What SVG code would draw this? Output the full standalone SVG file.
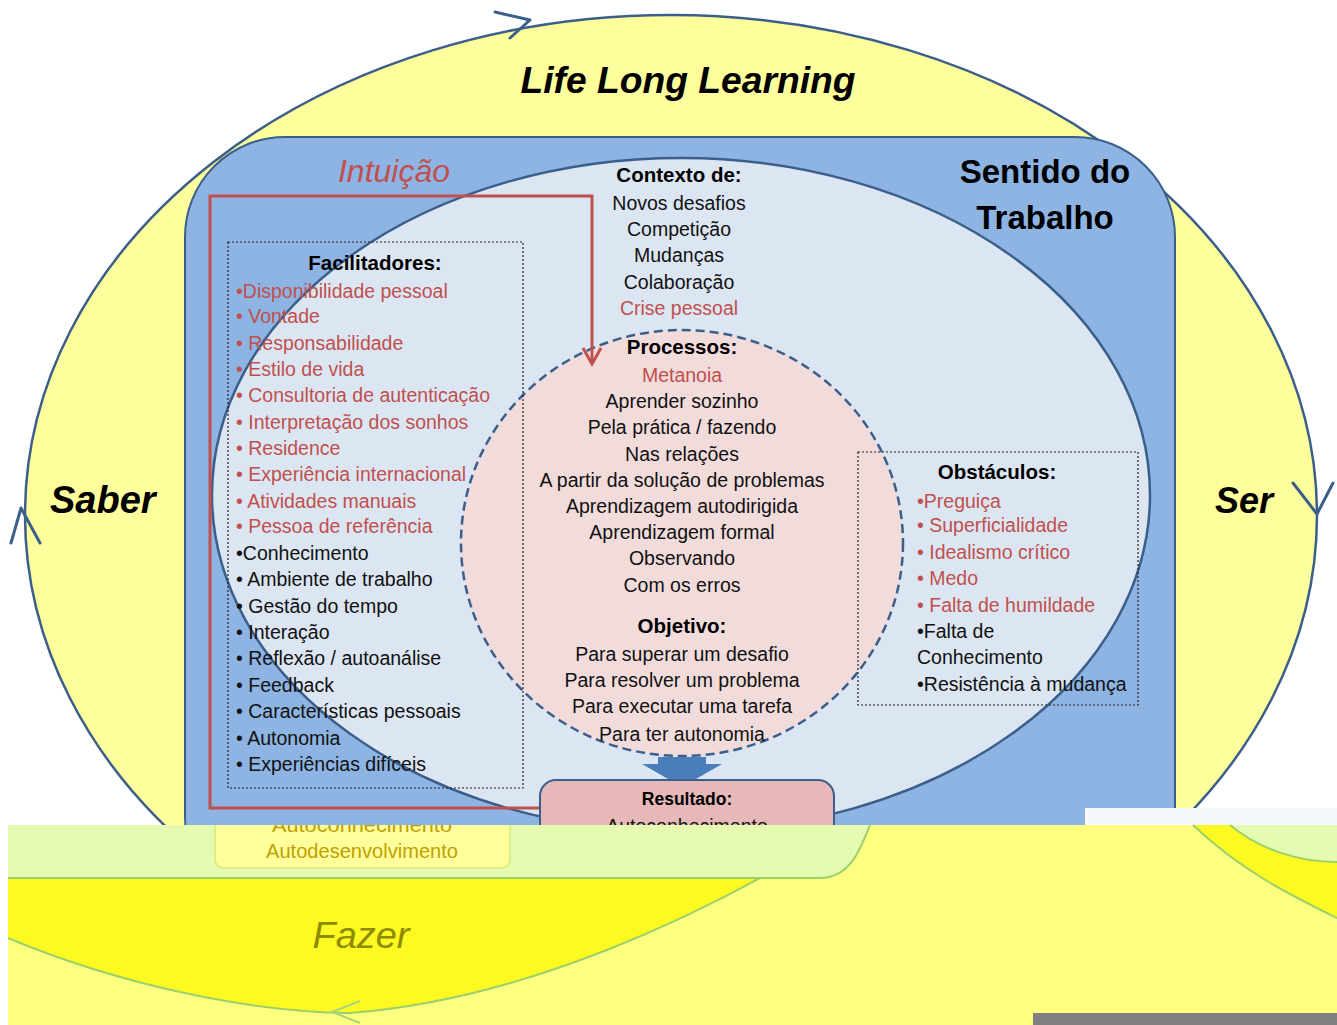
<svg xmlns="http://www.w3.org/2000/svg" width="1337" height="1025" viewBox="0 0 1337 1025">
<defs>
<style>
.t{font-family:"Liberation Sans",Arial,sans-serif;font-size:19.5px;fill:#111}
.h{font-family:"Liberation Sans",Arial,sans-serif;font-size:20.5px;font-weight:bold;fill:#000;text-anchor:middle}
.r{fill:#c0504d}
.c{text-anchor:middle}
.big{font-family:"Liberation Sans",Arial,sans-serif;font-weight:bold;font-style:italic;font-size:36px;fill:#000}
.dot{fill:none;stroke:#222;stroke-width:1.2;stroke-dasharray:2 2}
.arw{fill:none;stroke:#3b5f8a;stroke-width:3;stroke-linecap:round;stroke-linejoin:round}
.gl{fill:none;stroke:#9cd06a;stroke-width:2}
.ol{fill:#c0a000}
</style>
<clipPath id="below"><rect x="0" y="825" width="1337" height="200"/></clipPath>
</defs>
<rect width="1337" height="1025" fill="#fff"/>

<g id="life-long-learning">
<ellipse cx="671" cy="515" rx="646" ry="500" fill="#fefe9c" stroke="#3b5f8a" stroke-width="2.5"/>
<text class="big c" x="688" y="93" textLength="335" lengthAdjust="spacingAndGlyphs">Life Long Learning</text>
</g>
<g id="saber"><text class="big" x="50" y="513" style="font-size:38px">Saber</text></g>
<g id="ser"><text class="big" x="1215" y="513">Ser</text></g>

<g id="sentido-do-trabalho">
<rect x="185" y="137" width="990" height="780" rx="100" fill="#8eb4e3" stroke="#3b5f8a" stroke-width="2"/>
<text class="h" x="1045" y="183" style="font-size:33px">Sentido do</text>
<text class="h" x="1045" y="229" style="font-size:33px">Trabalho</text>
</g>

<g id="contexto">
<ellipse cx="681" cy="495" rx="469" ry="337" fill="#dce6f2" stroke="#3b5f8a" stroke-width="2.5"/>
<text class="h" x="679" y="182">Contexto de:</text>
<text class="t c" x="679" y="210">Novos desafios</text>
<text class="t c" x="679" y="236">Competição</text>
<text class="t c" x="679" y="262">Mudanças</text>
<text class="t c" x="679" y="289">Colaboração</text>
<text class="t c r" x="679" y="315">Crise pessoal</text>
</g>

<g id="processos">
<ellipse cx="682" cy="543" rx="221" ry="213" fill="#f2dcdb" stroke="#3b5f8a" stroke-width="2.5" stroke-dasharray="9 5"/>
<text class="h" x="682" y="354">Processos:</text>
<text class="t c r" x="682" y="382">Metanoia</text>
<text class="t c" x="682" y="408">Aprender sozinho</text>
<text class="t c" x="682" y="434">Pela prática / fazendo</text>
<text class="t c" x="682" y="461">Nas relações</text>
<text class="t c" x="682" y="487">A partir da solução de problemas</text>
<text class="t c" x="682" y="513">Aprendizagem autodirigida</text>
<text class="t c" x="682" y="539">Aprendizagem formal</text>
<text class="t c" x="682" y="565">Observando</text>
<text class="t c" x="682" y="592">Com os erros</text>
<text class="h" x="682" y="633">Objetivo:</text>
<text class="t c" x="682" y="661">Para superar um desafio</text>
<text class="t c" x="682" y="687">Para resolver um problema</text>
<text class="t c" x="682" y="713">Para executar uma tarefa</text>
<text class="t c" x="682" y="741">Para ter autonomia</text>
</g>

<g id="facilitadores">
<rect class="dot" x="228" y="242" width="295" height="546"/>
<text class="h" x="375" y="270">Facilitadores:</text>
<text class="t r" x="236" y="298">•Disponibilidade pessoal</text>
<text class="t r" x="236" y="323">• Vontade</text>
<text class="t r" x="236" y="350">• Responsabilidade</text>
<text class="t r" x="236" y="376">• Estilo de vida</text>
<text class="t r" x="236" y="402">• Consultoria de autenticação</text>
<text class="t r" x="236" y="429">• Interpretação dos sonhos</text>
<text class="t r" x="236" y="455">• Residence</text>
<text class="t r" x="236" y="481">• Experiência internacional</text>
<text class="t r" x="236" y="508">• Atividades manuais</text>
<text class="t r" x="236" y="533">• Pessoa de referência</text>
<text class="t" x="236" y="560">•Conhecimento</text>
<text class="t" x="236" y="586">• Ambiente de trabalho</text>
<text class="t" x="236" y="613">• Gestão do tempo</text>
<text class="t" x="236" y="639">• Interação</text>
<text class="t" x="236" y="665">• Reflexão / autoanálise</text>
<text class="t" x="236" y="692">• Feedback</text>
<text class="t" x="236" y="718">• Características pessoais</text>
<text class="t" x="236" y="745">• Autonomia</text>
<text class="t" x="236" y="771">• Experiências difíceis</text>
</g>

<g id="obstaculos">
<rect class="dot" x="858" y="452" width="280" height="253"/>
<text class="h" x="997" y="479">Obstáculos:</text>
<text class="t r" x="917" y="508">•Preguiça</text>
<text class="t r" x="917" y="532">• Superficialidade</text>
<text class="t r" x="917" y="559">• Idealismo crítico</text>
<text class="t r" x="917" y="585">• Medo</text>
<text class="t r" x="917" y="612">• Falta de humildade</text>
<text class="t" x="917" y="638">•Falta de</text>
<text class="t" x="917" y="664">Conhecimento</text>
<text class="t" x="917" y="691">•Resistência à mudança</text>
</g>

<g id="intuicao">
<text class="t c r" x="394" y="182" style="font-size:32px;font-style:italic">Intuição</text>
</g>

<g id="connectors">
<path d="M540,808 H210 V196 H592 V363" fill="none" stroke="#c0504d" stroke-width="3"/>
<path d="M583,348 L592,364 L601,348" fill="none" stroke="#c0504d" stroke-width="3"/>
<polygon points="658,757 706,757 706,764 722,764 682,787 642,764 658,764" fill="#4a7ebb"/>
<path class="arw" d="M495,12 L530,20 L510,38"/>
<path class="arw" d="M11,543 L21,508 L40,543"/>
<path class="arw" d="M1293,483 L1317,514 L1333,483"/>
</g>

<g id="resultado">
<rect x="540" y="780" width="294" height="100" rx="16" fill="#e6b9b8" stroke="#3b5f8a" stroke-width="2"/>
<text class="h" x="687" y="805" style="font-size:17.5px">Resultado:</text>
<text class="t c" x="687" y="833">Autoconhecimento</text>
</g>

<g id="fazer">
<rect x="1085" y="808" width="252" height="17" fill="#f5f8fc"/>
<rect x="8" y="825" width="1329" height="200" fill="#ffff80"/>
<rect x="0" y="825" width="8" height="200" fill="#fff"/>
<path d="M8,825 H850 C700,920 520,1000 350,1013 C250,1012 120,985 8,938 Z" fill="#fff922"/>
<path class="gl" d="M850,825 C700,920 520,1000 350,1013 C250,1012 120,985 8,938"/>
<path d="M8,825 H870 C860,850 850,878 820,878 H8 Z" fill="#e6fbb2"/>
<path class="gl" d="M8,878 H820 C850,878 860,850 870,825"/>
<path d="M1193,825 C1240,870 1290,895 1337,918 V825 Z" fill="#fff922"/>
<path class="gl" d="M1193,825 C1240,870 1290,895 1337,918"/>
<path d="M1230,825 C1260,850 1300,862 1337,862 V825 Z" fill="#e6fbb2"/>
<path class="gl" d="M1230,825 C1260,850 1300,862 1337,862"/>
<path d="M215,820 H510 V858 Q510,868 500,868 H225 Q215,868 215,858 Z" fill="#ffff9c" stroke="#d8e880" stroke-width="1.5" clip-path="url(#below)"/>
<text class="t c ol" x="362" y="832" clip-path="url(#below)" textLength="180" lengthAdjust="spacingAndGlyphs">Autoconhecimento</text>
<text class="t c ol" x="362" y="858" textLength="192" lengthAdjust="spacingAndGlyphs">Autodesenvolvimento</text>
<text x="361" y="948" text-anchor="middle" font-family="Liberation Sans, Arial, sans-serif" font-style="italic" font-size="36" fill="#8c8c00" textLength="97" lengthAdjust="spacingAndGlyphs">Fazer</text>
<path d="M360,1001 L332,1012 L360,1023" fill="none" stroke="#a8d47a" stroke-width="2"/>
<rect x="1033" y="1013" width="304" height="12" fill="#808080"/>
</g>
</svg>
